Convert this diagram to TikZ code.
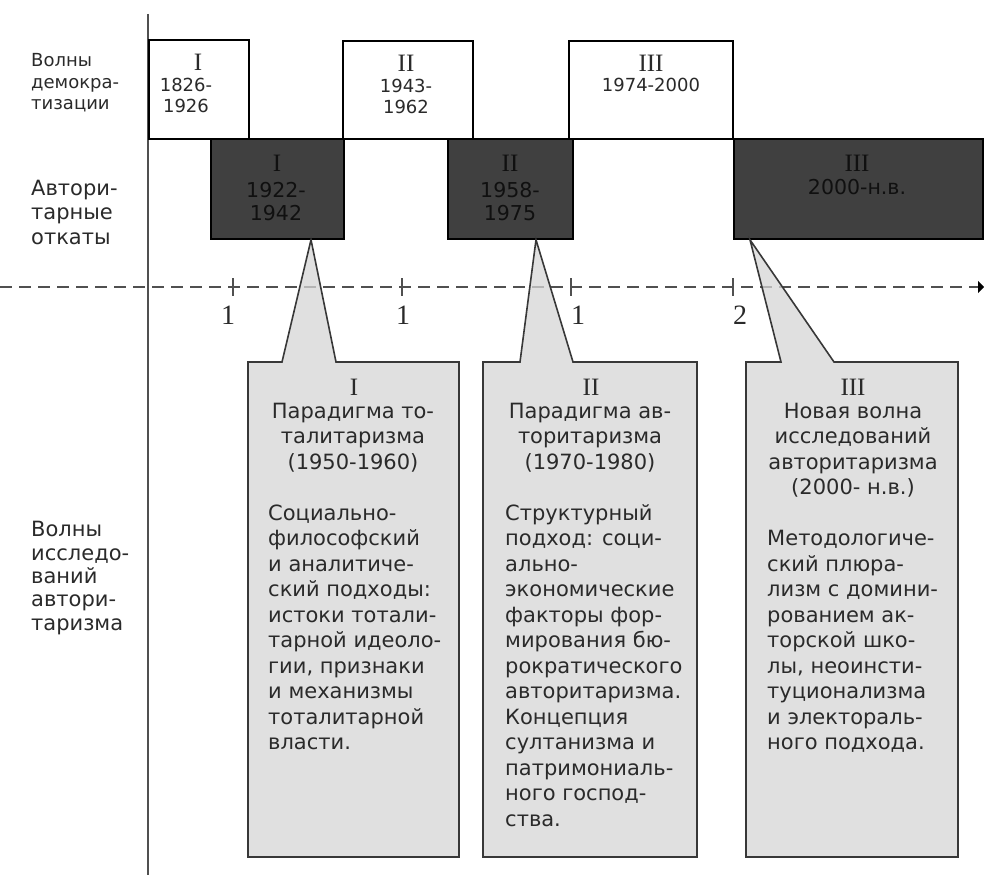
\documentclass[tikz,border=0pt]{standalone}
\usepackage{fontspec}
\setmainfont{DejaVu Sans}
\newfontfamily\romfont{Liberation Serif}
\usetikzlibrary{arrows.meta}
\definecolor{axisgray}{HTML}{505050}
\definecolor{darkbox}{HTML}{404040}
\definecolor{calloutfill}{HTML}{D6D6D6}
\definecolor{calloutline}{HTML}{383838}
\definecolor{txt}{HTML}{2A2A2A}
\definecolor{dtxt}{HTML}{101010}
\begin{document}
\begin{tikzpicture}[x=1pt,y=-1pt,
  wbox/.style={draw=black,line width=1.8pt,fill=white,inner sep=0pt,anchor=north west},
  dbox/.style={draw=black,line width=1.8pt,fill=darkbox,inner sep=0pt,anchor=north west},
  roman/.style={font=\romfont\fontsize{25}{25}\selectfont,inner sep=0pt,anchor=center},
  wnum/.style={font=\fontsize{18}{21}\selectfont,text=txt,inner sep=0pt,align=center,anchor=center},
  dnum/.style={font=\fontsize{20.5}{23}\selectfont,text=dtxt,inner sep=0pt,align=center,anchor=center},
  sidelab/.style={font=\fontsize{18}{21.5}\selectfont,text=txt,inner sep=0pt,align=left,anchor=west},
  sidelabb/.style={font=\fontsize{21}{24.5}\selectfont,text=txt,inner sep=0pt,align=left,anchor=west},
  sidelabc/.style={font=\fontsize{21}{23.3}\selectfont,text=txt,inner sep=0pt,align=left,anchor=west},
  ctitle/.style={font=\fontsize{21}{25.5}\selectfont,text=txt,inner sep=0pt,align=center,anchor=north},
  cbody/.style={font=\fontsize{21}{25.5}\selectfont,text=txt,inner sep=0pt,align=left,anchor=north west},
  ticklab/.style={font=\romfont\fontsize{28}{28}\selectfont,text=txt,inner sep=0pt,anchor=center},
  callout/.style={draw=calloutline,line width=1.6pt,fill=calloutfill,fill opacity=0.75,line join=miter}
]
\useasboundingbox (0,0) rectangle (984,875);

% vertical axis
\coordinate (vtop) at (148,14);
\coordinate (vbot) at (148,875);
\draw[axisgray,line width=1.8pt] (vtop) -- (vbot);

% democratization waves
\node[wbox,minimum width=100pt,minimum height=99pt] (w1) at (148,39) {};
\node[wbox,minimum width=130pt,minimum height=98pt] (w2) at (342,40) {};
\node[wbox,minimum width=164pt,minimum height=98pt] (w3) at (568,40) {};
% authoritarian reversals
\node[dbox,minimum width=133pt,minimum height=100pt] (d1) at (210,138) {};
\node[dbox,minimum width=125pt,minimum height=100pt] (d2) at (447,138) {};
\node[dbox,minimum width=249pt,minimum height=100pt] (d3) at (733,138) {};

\node[roman,text=txt] (w1r) at (198,62) {I};
\node[wnum] (w1t) at (186,95.5) {1826-\\1926};
\node[roman,text=txt] (w2r) at (406,63) {II};
\node[wnum] (w2t) at (406,96) {1943-\\1962};
\node[roman,text=txt] (w3r) at (651,63) {III};
\node[wnum] (w3t) at (651,85) {1974-2000};

\node[roman,text=dtxt] (d1r) at (277,163) {I};
\node[dnum] (d1t) at (276,201.5) {1922-\\1942};
\node[roman,text=dtxt] (d2r) at (510,163) {II};
\node[dnum] (d2t) at (510,201.5) {1958-\\1975};
\node[roman,text=dtxt] (d3r) at (857,163) {III};
\node[dnum] (d3t) at (857,187) {2000-н.в.};

% side labels
\node[sidelab] (l1) at (31,83) {Волны\\демокра-\\тизации};
\node[sidelabb] (l2) at (31,212) {Автори-\\тарные\\откаты};
\node[sidelabc] (l3) at (31,578) {Волны\\исследо-\\ваний\\автори-\\таризма};

% time axis
\coordinate (t0) at (0,287);
\coordinate (t1) at (984,287);
\draw[axisgray,line width=2.2pt,dash pattern=on 12pt off 7pt,-{Triangle[length=6pt,width=12pt,color=black]}] (t0) -- (t1);
\foreach \x in {233,402,571,733} \draw[axisgray,line width=1.4pt] (\x,278) -- (\x,296);
\node[ticklab] (k1) at (228,315) {1};
\node[ticklab] (k2) at (403,315) {1};
\node[ticklab] (k3) at (578,315) {1};
\node[ticklab] (k4) at (740,315) {2};

% callouts
\draw[callout] (248,362) -- (282,362) -- ([xshift=101pt]d1.south west) -- (336,362) -- (459,362) -- (459,857) -- (248,857) -- cycle;
\draw[callout] (483,362) -- (520,362) -- ([xshift=89pt]d2.south west) -- (573,362) -- (697,362) -- (697,857) -- (483,857) -- cycle;
\draw[callout] (746,362) -- (781,362) -- ([xshift=17pt]d3.south west) -- (834,362) -- (958,362) -- (958,857) -- (746,857) -- cycle;

\node[roman,text=txt] (c1r) at (354,387) {I};
\node[ctitle] (c1t) at (353,400.15) {\strut Парадигма то-\\талитаризма\\(1950-1960)};
\node[cbody] (c1b) at (268,502.15) {\strut Социально-\\философский\\и аналитиче-\\ский подходы:\\истоки тотали-\\тарной идеоло-\\гии, признаки\\и механизмы\\тоталитарной\\власти.};

\node[roman,text=txt] (c2r) at (591,387) {II};
\node[ctitle] (c2t) at (590,400.15) {\strut Парадигма ав-\\торитаризма\\(1970-1980)};
\node[cbody] (c2b) at (505,502.15) {\strut Структурный\\подход: соци-\\ально-\\экономические\\факторы фор-\\мирования бю-\\рократического\\авторитаризма.\\Концепция\\султанизма и\\патримониаль-\\ного господ-\\ства.};

\node[roman,text=txt] (c3r) at (853,387) {III};
\node[ctitle] (c3t) at (853,400.15) {\strut Новая волна\\исследований\\авторитаризма\\(2000- н.в.)};
\node[cbody] (c3b) at (767,527.65) {\strut Методологиче-\\ский плюра-\\лизм с домини-\\рованием ак-\\торской шко-\\лы, неоинсти-\\туционализма\\и электораль-\\ного подхода.};
\end{tikzpicture}
\end{document}
